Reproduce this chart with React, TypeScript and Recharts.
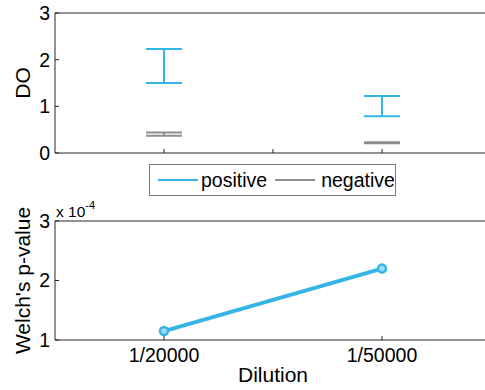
import {
  ComposedChart,
  ErrorBar,
  Legend,
  Line,
  Scatter,
  XAxis,
  YAxis
} from "recharts";

// dilution categories, placed at x = 1, 2
const dilutions = ["1/20000", "1/50000"];
const positions = [1, 2];
const seriesNames = ["positive", "negative"];

// DO range (low / high) per dilution
const positiveLow = [1.5, 0.79];
const positiveHigh = [2.23, 1.22];
const negativeLow = [0.37, 0.21];
const negativeHigh = [0.44, 0.23];

// Welch's p-value per dilution
const pValues = [1.15e-4, 2.2e-4];

const doTicks = [0, 1, 2, 3];
const pTicks = [1e-4, 2e-4, 3e-4];

const BLUE = "#35b5e6";
const GRAY = "#8e8e8e";
const AXIS = "#262626";
const FONT = "'Liberation Sans', Arial, sans-serif";

const rangeRows = (low: number[], high: number[]) =>
  positions.map((x, i) => {
    const mid = (low[i] + high[i]) / 2;
    return { x, mid, err: [mid - low[i], high[i] - mid] };
  });

const positiveRows = rangeRows(positiveLow, positiveHigh);
const negativeRows = rangeRows(negativeLow, negativeHigh);
const pRows = positions.map((x, i) => ({ x, p: pValues[i] }));

const dilutionLabel = (v: number) => {
  const i = positions.indexOf(v);
  return i >= 0 ? dilutions[i] : "";
};

const tickStyle = { fill: "#000", fontSize: 19.5, fontFamily: FONT };
const titleStyle = { fontSize: 21, fill: "#000", fontFamily: FONT };

function LegendBox({ payload }: any) {
  const items = [...(payload || [])].sort(
    (a: any, b: any) => seriesNames.indexOf(a.value) - seriesNames.indexOf(b.value)
  );
  return (
    <div
      style={{
        boxSizing: "border-box",
        width: 247,
        height: 32,
        border: "1px solid #7a7a7a",
        background: "#fff",
        display: "flex",
        alignItems: "center",
        fontFamily: FONT,
        fontSize: 19.5,
        color: "#000"
      }}
    >
      {items.map((entry: any, i: number) => (
        <div
          key={entry.value}
          style={{ display: "flex", alignItems: "center", marginLeft: i === 0 ? 8 : 8 }}
        >
          <div style={{ width: 40, height: 1.5, background: entry.color }} />
          <span style={{ marginLeft: i === 0 ? 3 : 6 }}>{entry.value}</span>
        </div>
      ))}
    </div>
  );
}

const hiddenShape = () => <g />;

export default function App() {
  return (
    <div
      style={{
        position: "fixed",
        left: 0,
        top: 0,
        width: 485,
        height: 390,
        overflow: "hidden",
        background: "#fff",
        fontFamily: FONT
      }}
    >
      <div style={{ position: "absolute", left: 0, top: 0 }}>
        <ComposedChart
          width={500}
          height={165}
          margin={{ top: 12, right: 8, bottom: 11, left: 54 }}
        >
          <XAxis
            type="number"
            dataKey="x"
            domain={[0.5, 2.5]}
            ticks={[1, 1.5, 2]}
            height={1}
            stroke={AXIS}
            tickSize={-4}
            tickFormatter={() => ""}
          />
          <XAxis
            xAxisId="top"
            orientation="top"
            type="number"
            domain={[0.5, 2.5]}
            ticks={[1, 1.5, 2]}
            height={1}
            stroke={AXIS}
            tickSize={-4}
            tickFormatter={() => ""}
          />
          <YAxis
            type="number"
            domain={[0, 3]}
            ticks={doTicks}
            width={1}
            stroke={AXIS}
            tickSize={-4}
            tickMargin={9}
            tick={tickStyle}
            label={{
              value: "DO",
              angle: -90,
              position: "left",
              offset: 31,
              style: { ...titleStyle, textAnchor: "middle" }
            }}
          />
          <YAxis
            yAxisId="right"
            orientation="right"
            type="number"
            domain={[0, 3]}
            ticks={doTicks}
            width={1}
            stroke={AXIS}
            tickSize={-4}
            tickFormatter={() => ""}
          />
          <Scatter
            name="positive"
            data={positiveRows}
            dataKey="mid"
            fill={BLUE}
            stroke={BLUE}
            legendType="plainline"
            shape={hiddenShape}
            isAnimationActive={false}
          >
            <ErrorBar
              dataKey="err"
              direction="y"
              width={18}
              stroke={BLUE}
              strokeWidth={2}
              isAnimationActive={false}
            />
          </Scatter>
          <Scatter
            name="negative"
            data={negativeRows}
            dataKey="mid"
            fill={GRAY}
            stroke={GRAY}
            legendType="plainline"
            shape={hiddenShape}
            isAnimationActive={false}
          >
            <ErrorBar
              dataKey="err"
              direction="y"
              width={18}
              stroke={GRAY}
              strokeWidth={2}
              isAnimationActive={false}
            />
          </Scatter>
          <Legend
            layout="horizontal"
            align="center"
            verticalAlign="middle"
            content={LegendBox}
            wrapperStyle={{ left: 149, top: 164, width: 247, height: 32 }}
          />
        </ComposedChart>
      </div>

      <div style={{ position: "absolute", left: 0, top: 160 }}>
        <ComposedChart
          width={500}
          height={230}
          data={pRows}
          margin={{ top: 60, right: 8, bottom: 49, left: 54 }}
        >
          <XAxis
            type="number"
            dataKey="x"
            domain={[0.5, 2.5]}
            ticks={positions}
            height={1}
            stroke={AXIS}
            tickSize={-4}
            tickMargin={12}
            tick={tickStyle}
            tickFormatter={dilutionLabel}
            label={{
              value: "Dilution",
              position: "bottom",
              offset: 26,
              style: titleStyle
            }}
          />
          <XAxis
            xAxisId="top"
            orientation="top"
            type="number"
            domain={[0.5, 2.5]}
            ticks={positions}
            height={1}
            stroke={AXIS}
            tickSize={-4}
            tickFormatter={() => ""}
          />
          <YAxis
            type="number"
            domain={[1e-4, 3e-4]}
            ticks={pTicks}
            width={1}
            stroke={AXIS}
            tickSize={-4}
            tickMargin={9}
            tick={tickStyle}
            tickFormatter={(v: number) => String(Math.round(v * 1e4))}
            label={{
              value: "Welch's p-value",
              angle: -90,
              position: "left",
              offset: 31,
              style: { ...titleStyle, textAnchor: "middle" }
            }}
          />
          <YAxis
            yAxisId="right"
            orientation="right"
            type="number"
            domain={[1e-4, 3e-4]}
            ticks={pTicks}
            width={1}
            stroke={AXIS}
            tickSize={-4}
            tickFormatter={() => ""}
          />
          <Line
            dataKey="p"
            stroke={BLUE}
            strokeWidth={4}
            dot={{ r: 4, stroke: BLUE, strokeWidth: 2.5, fill: "#9fdaf3" }}
            activeDot={false}
            isAnimationActive={false}
          />
          <text x={56} y={57} fontSize={15.5} fill="#000" fontFamily={FONT}>
            x 10
            <tspan dy={-8} fontSize={11}>
              -4
            </tspan>
          </text>
        </ComposedChart>
      </div>
    </div>
  );
}
